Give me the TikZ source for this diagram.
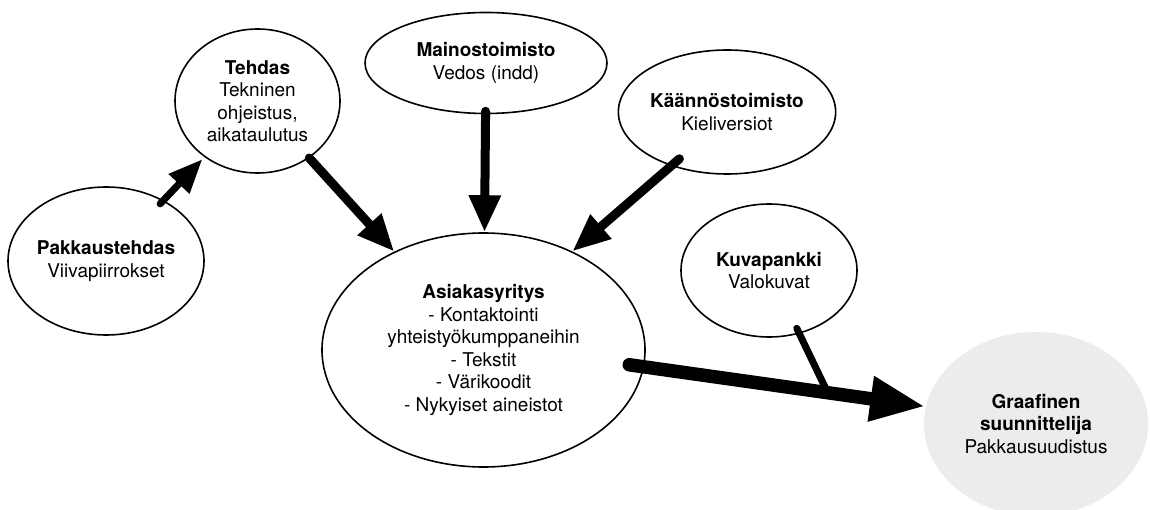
\documentclass[tikz,border=0pt]{standalone}
\usepackage{fontspec}
\setmainfont{TeX Gyre Heros}
\usetikzlibrary{shapes.geometric,arrows.meta}
\begin{document}
\begin{tikzpicture}[x=1pt,y=-1pt,
  bubble/.style={ellipse, draw=black, line width=1.6pt, inner sep=0pt,
    align=center, text=black, font=\fontsize{19}{22.5}\selectfont},
  flow/.style={line width=9pt, line cap=round,
    -{Triangle[length=37pt,width=30pt]}},
  link/.style={line width=7pt, line cap=round},
]
\useasboundingbox (0,0) rectangle (1150,510);

% parties
\node[bubble, minimum width=196pt, minimum height=148pt] (pak) at (106,261)
  {\textbf{Pakkaustehdas}\\Viivapiirrokset};
\node[bubble, minimum width=165pt, minimum height=144pt] (teh) at (257.5,101)
  {\textbf{Tehdas}\\Tekninen\\ohjeistus,\\aikataulutus};
\node[bubble, minimum width=242pt, minimum height=101pt] (mai) at (486,63)
  {\textbf{Mainostoimisto}\\Vedos (indd)};
\node[bubble, minimum width=216pt, minimum height=124pt] (kaa) at (727,112)
  {\textbf{Käännöstoimisto}\\Kieliversiot};
\node[bubble, minimum width=323pt, minimum height=234pt] (asia) at (483.5,350)
  {\textbf{Asiakasyritys}\\- Kontaktointi\\yhteistyökumppaneihin\\- Tekstit\\- Värikoodit\\- Nykyiset aineistot};
\node[bubble, minimum width=176pt, minimum height=133pt] (kuva) at (769,270.5)
  {\textbf{Kuvapankki}\\Valokuvat};
\node[bubble, draw=none, fill=gray!15, minimum width=224pt, minimum height=184pt] (graf) at (1036,424)
  {\textbf{Graafinen}\\\textbf{suunnittelija}\\Pakkausuudistus};

% material flows
\draw[flow, line width=7pt, -{Triangle[length=34pt,width=27pt]},
  shorten <=-5pt, shorten >=3pt] (pak) -- (teh);
\draw[flow] (teh) -- (asia);
\draw[flow, shorten <=-3pt] (mai) -- (asia);
\draw[flow, -{Triangle[length=38pt,width=30pt]}, shorten <=-11pt] (kaa.224) -- (asia.48);

\path (asia.-6) -- (graf.171) coordinate[pos=0.653] (join);
\draw[link, shorten <=-6pt] (kuva) -- (join);
\draw[flow, line width=13.5pt, -{Triangle[length=55pt,width=42pt]},
  shorten <=-15pt] (asia.-6) -- (graf.171);
\end{tikzpicture}
\end{document}
